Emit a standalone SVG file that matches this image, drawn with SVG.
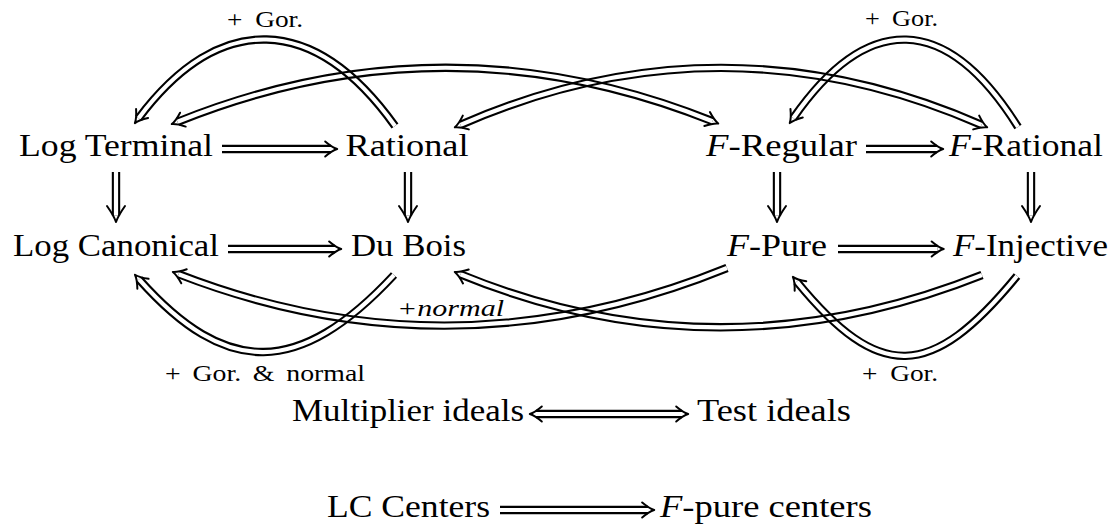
<svg xmlns="http://www.w3.org/2000/svg" width="1117" height="532" viewBox="0 0 1117 532">
<style>
.n{font-family:"Liberation Serif","Times New Roman",serif;font-size:32.5px;fill:#000}
.l{font-family:"Liberation Serif","Times New Roman",serif;font-size:23px;fill:#000}
.it{font-style:italic}
.o{fill:none;stroke:#000;stroke-width:8.4}
.i{fill:none;stroke:#000;stroke-width:4.2}
.h{fill:none;stroke:none;marker-end:url(#ah)}
.hb{fill:none;stroke:none;marker-start:url(#ahs);marker-end:url(#ah)}
.hv{fill:none;stroke:none;marker-end:url(#ahv)}
.mk{fill:none;stroke:#000;stroke-width:2;stroke-linecap:round;stroke-linejoin:round}
</style>
<defs>
<marker id="ah" markerUnits="userSpaceOnUse" viewBox="-16 -10 24 20" markerWidth="24" markerHeight="20" refX="-6.2" refY="0" orient="auto" overflow="visible"><path class="mk" d="M-12,-7.5 Q-5,-1.5 0,0 Q-5,1.5 -12,7.5"/></marker>
<marker id="ahs" markerUnits="userSpaceOnUse" viewBox="-16 -10 24 20" markerWidth="24" markerHeight="20" refX="-6.2" refY="0" orient="auto-start-reverse" overflow="visible"><path class="mk" d="M-12,-7.5 Q-5,-1.5 0,0 Q-5,1.5 -12,7.5"/></marker>
<marker id="ahv" markerUnits="userSpaceOnUse" viewBox="-20 -12 28 24" markerWidth="28" markerHeight="24" refX="-6.5" refY="0" orient="auto" overflow="visible"><path class="mk" d="M-16,-9 Q-6,-2 0,0 Q-6,2 -16,9"/></marker>
<path id="p1" d="M222,149 H331"/>
<path id="p2" d="M866,149 H937"/>
<path id="p3" d="M228,249 H335"/>
<path id="p4" d="M838,249 H937.5"/>
<path id="p5" d="M536,414 H682"/>
<path id="p6" d="M500,510 H648"/>
<path id="v1" d="M116,172 V215.5"/>
<path id="v2" d="M408,172 V215.5"/>
<path id="v3" d="M777,172 V215.5"/>
<path id="v4" d="M1031,172 V215.5"/>
<path id="cA" d="M395,126 C314,13 219,11 138.6,118.2"/>
<path id="cB" d="M1018,127 C946,12 867,12 793.3,118"/>
<path id="cC" d="M177.5,121.8 Q445,14 712.5,121.2"/>
<path id="cD" d="M460.5,124.8 Q721,11 981.5,124.8"/>
<path id="cE" d="M727,268 Q451,380 178.6,274.2"/>
<path id="cF" d="M982,275 Q718,380 460.5,274.3"/>
<path id="cG" d="M1017,276 C931,381 879,382 796.8,281.6"/>
<path id="cH" d="M394,275 C299,377 226,377 139.1,279.4"/>
<mask id="m1" maskUnits="userSpaceOnUse" x="0" y="0" width="1117" height="532"><rect width="1117" height="532" fill="#fff"/><use href="#p1" class="i"/></mask>
<mask id="m2" maskUnits="userSpaceOnUse" x="0" y="0" width="1117" height="532"><rect width="1117" height="532" fill="#fff"/><use href="#p2" class="i"/></mask>
<mask id="m3" maskUnits="userSpaceOnUse" x="0" y="0" width="1117" height="532"><rect width="1117" height="532" fill="#fff"/><use href="#p3" class="i"/></mask>
<mask id="m4" maskUnits="userSpaceOnUse" x="0" y="0" width="1117" height="532"><rect width="1117" height="532" fill="#fff"/><use href="#p4" class="i"/></mask>
<mask id="m5" maskUnits="userSpaceOnUse" x="0" y="0" width="1117" height="532"><rect width="1117" height="532" fill="#fff"/><use href="#p5" class="i"/></mask>
<mask id="m6" maskUnits="userSpaceOnUse" x="0" y="0" width="1117" height="532"><rect width="1117" height="532" fill="#fff"/><use href="#p6" class="i"/></mask>
<mask id="mv1" maskUnits="userSpaceOnUse" x="0" y="0" width="1117" height="532"><rect width="1117" height="532" fill="#fff"/><use href="#v1" class="i"/></mask>
<mask id="mv2" maskUnits="userSpaceOnUse" x="0" y="0" width="1117" height="532"><rect width="1117" height="532" fill="#fff"/><use href="#v2" class="i"/></mask>
<mask id="mv3" maskUnits="userSpaceOnUse" x="0" y="0" width="1117" height="532"><rect width="1117" height="532" fill="#fff"/><use href="#v3" class="i"/></mask>
<mask id="mv4" maskUnits="userSpaceOnUse" x="0" y="0" width="1117" height="532"><rect width="1117" height="532" fill="#fff"/><use href="#v4" class="i"/></mask>
<mask id="mA" maskUnits="userSpaceOnUse" x="0" y="0" width="1117" height="532"><rect width="1117" height="532" fill="#fff"/><use href="#cA" class="i"/></mask>
<mask id="mB" maskUnits="userSpaceOnUse" x="0" y="0" width="1117" height="532"><rect width="1117" height="532" fill="#fff"/><use href="#cB" class="i"/></mask>
<mask id="mC" maskUnits="userSpaceOnUse" x="0" y="0" width="1117" height="532"><rect width="1117" height="532" fill="#fff"/><use href="#cC" class="i"/></mask>
<mask id="mD" maskUnits="userSpaceOnUse" x="0" y="0" width="1117" height="532"><rect width="1117" height="532" fill="#fff"/><use href="#cD" class="i"/></mask>
<mask id="mE" maskUnits="userSpaceOnUse" x="0" y="0" width="1117" height="532"><rect width="1117" height="532" fill="#fff"/><use href="#cE" class="i"/></mask>
<mask id="mF" maskUnits="userSpaceOnUse" x="0" y="0" width="1117" height="532"><rect width="1117" height="532" fill="#fff"/><use href="#cF" class="i"/></mask>
<mask id="mG" maskUnits="userSpaceOnUse" x="0" y="0" width="1117" height="532"><rect width="1117" height="532" fill="#fff"/><use href="#cG" class="i"/></mask>
<mask id="mH" maskUnits="userSpaceOnUse" x="0" y="0" width="1117" height="532"><rect width="1117" height="532" fill="#fff"/><use href="#cH" class="i"/></mask>
</defs>
<rect width="1117" height="532" fill="#fff"/>
<g id="connectors">
<g id="e-lt-rat"><use href="#p1" class="o" mask="url(#m1)"/><use href="#p1" class="h"/></g>
<g id="e-freg-frat"><use href="#p2" class="o" mask="url(#m2)"/><use href="#p2" class="h"/></g>
<g id="e-lc-db"><use href="#p3" class="o" mask="url(#m3)"/><use href="#p3" class="h"/></g>
<g id="e-fp-fi"><use href="#p4" class="o" mask="url(#m4)"/><use href="#p4" class="h"/></g>
<g id="e-mult-test"><use href="#p5" class="o" mask="url(#m5)"/><use href="#p5" class="hb"/></g>
<g id="e-lcc-fpc"><use href="#p6" class="o" mask="url(#m6)"/><use href="#p6" class="h"/></g>
<g id="e-lt-lc"><use href="#v1" class="o" mask="url(#mv1)"/><use href="#v1" class="hv"/></g>
<g id="e-rat-db"><use href="#v2" class="o" mask="url(#mv2)"/><use href="#v2" class="hv"/></g>
<g id="e-freg-fp"><use href="#v3" class="o" mask="url(#mv3)"/><use href="#v3" class="hv"/></g>
<g id="e-frat-fi"><use href="#v4" class="o" mask="url(#mv4)"/><use href="#v4" class="hv"/></g>
<g id="e-rat-lt-gor"><use href="#cA" class="o" mask="url(#mA)"/><use href="#cA" class="h"/></g>
<g id="e-frat-freg-gor"><use href="#cB" class="o" mask="url(#mB)"/><use href="#cB" class="h"/></g>
<g id="e-lt-freg"><use href="#cC" class="o" mask="url(#mC)"/><use href="#cC" class="hb"/></g>
<g id="e-rat-frat"><use href="#cD" class="o" mask="url(#mD)"/><use href="#cD" class="hb"/></g>
<g id="e-fp-lc"><use href="#cE" class="o" mask="url(#mE)"/><use href="#cE" class="h"/></g>
<g id="e-fi-db"><use href="#cF" class="o" mask="url(#mF)"/><use href="#cF" class="h"/></g>
<g id="e-fi-fp-gor"><use href="#cG" class="o" mask="url(#mG)"/><use href="#cG" class="h"/></g>
<g id="e-db-lc-gor"><use href="#cH" class="o" mask="url(#mH)"/><use href="#cH" class="h"/></g>
</g>
<g id="labels">
<text class="l" x="227" y="27" word-spacing="5" textLength="76" lengthAdjust="spacingAndGlyphs">+ Gor.</text>
<text class="l" x="865" y="26" word-spacing="5" textLength="73" lengthAdjust="spacingAndGlyphs">+ Gor.</text>
<text class="l it" x="397" y="316" textLength="107" lengthAdjust="spacingAndGlyphs">+normal</text>
<text class="l" x="165" y="381" word-spacing="4" textLength="200" lengthAdjust="spacingAndGlyphs">+ Gor. &amp; normal</text>
<text class="l" x="862" y="381" word-spacing="5" textLength="76" lengthAdjust="spacingAndGlyphs">+ Gor.</text>
</g>
<g id="n-log-terminal"><text class="n" x="19" y="156" textLength="194" lengthAdjust="spacingAndGlyphs">Log Terminal</text></g>
<g id="n-rational"><text class="n" x="345.5" y="156" textLength="123" lengthAdjust="spacingAndGlyphs">Rational</text></g>
<g id="n-f-regular"><text class="n" x="706" y="156" textLength="151" lengthAdjust="spacingAndGlyphs"><tspan class="it">F</tspan>-Regular</text></g>
<g id="n-f-rational"><text class="n" x="949" y="156" textLength="154" lengthAdjust="spacingAndGlyphs"><tspan class="it">F</tspan>-Rational</text></g>
<g id="n-log-canonical"><text class="n" x="13" y="256" textLength="206" lengthAdjust="spacingAndGlyphs">Log Canonical</text></g>
<g id="n-du-bois"><text class="n" x="351" y="256" textLength="115" lengthAdjust="spacingAndGlyphs">Du Bois</text></g>
<g id="n-f-pure"><text class="n" x="727" y="256" textLength="100" lengthAdjust="spacingAndGlyphs"><tspan class="it">F</tspan>-Pure</text></g>
<g id="n-f-injective"><text class="n" x="953" y="256" textLength="155" lengthAdjust="spacingAndGlyphs"><tspan class="it">F</tspan>-Injective</text></g>
<g id="n-multiplier"><text class="n" x="292" y="421" textLength="232" lengthAdjust="spacingAndGlyphs">Multiplier ideals</text></g>
<g id="n-test"><text class="n" x="697" y="421" textLength="154" lengthAdjust="spacingAndGlyphs">Test ideals</text></g>
<g id="n-lc-centers"><text class="n" x="327" y="517" textLength="163" lengthAdjust="spacingAndGlyphs">LC Centers</text></g>
<g id="n-fpure-centers"><text class="n" x="660" y="517" textLength="212" lengthAdjust="spacingAndGlyphs"><tspan class="it">F</tspan>-pure centers</text></g>
</svg>
